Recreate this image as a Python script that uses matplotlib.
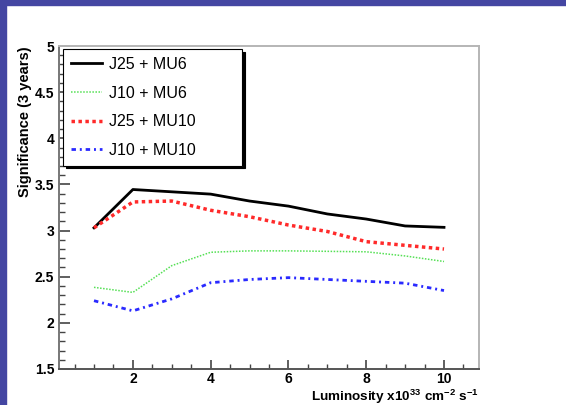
import numpy as np
import matplotlib
matplotlib.use('Agg')
import matplotlib.pyplot as plt
from matplotlib.patches import Rectangle
from matplotlib.ticker import MultipleLocator, StrMethodFormatter

# luminosity points (x10^33 cm^-2 s^-1)
lumi = [1, 2, 3, 4, 5, 6, 7, 8, 9, 10]

j25_mu6 = [3.03, 3.445, 3.42, 3.395, 3.32, 3.265, 3.18, 3.125, 3.05, 3.035]
j10_mu6 = [2.385, 2.33, 2.62, 2.765, 2.78, 2.78, 2.775, 2.77, 2.725, 2.665]
j25_mu10 = [3.03, 3.31, 3.32, 3.22, 3.15, 3.06, 2.99, 2.88, 2.84, 2.80]
j10_mu10 = [2.24, 2.13, 2.26, 2.435, 2.47, 2.49, 2.47, 2.45, 2.43, 2.35]

labels = ['J25 + MU6', 'J10 + MU6', 'J25 + MU10', 'J10 + MU10']

plt.rcParams['font.family'] = ['Liberation Sans', 'DejaVu Sans']
plt.rcParams['mathtext.fontset'] = 'custom'
plt.rcParams['mathtext.rm'] = 'Liberation Sans:bold'
plt.rcParams['mathtext.bf'] = 'Liberation Sans:bold'
plt.rcParams['mathtext.default'] = 'rm'

fig = plt.figure(figsize=(5.66, 4.05), dpi=100)
W, H = 566, 405
# slide border
fig.patches.append(Rectangle((0, 0), 6 / W, 1, transform=fig.transFigure,
                             color='#4446a2', zorder=0))
fig.patches.append(Rectangle((0, 1 - 5 / H), 1, 5 / H, transform=fig.transFigure,
                             color='#4446a2', zorder=0))

ax = fig.add_axes([59 / W, 1 - 369 / H, 420 / W, 323 / H])

ax.plot(lumi, j25_mu6, color='black', lw=2.0, label=labels[0])
ax.plot(lumi, j10_mu6, color='#55e055', lw=1.1, ls=(0, (1, 1)), label=labels[1])
ax.plot(lumi, j25_mu10, color='#ff2a2a', lw=2.5, ls=(0, (1, 1)), label=labels[2])
ax.plot(lumi, j10_mu10, color='#2a2aff', lw=2.0, ls=(0, (1.6, 1.4, 0.7, 1.4)), label=labels[3])

ax.set_xlim(0.1, 10.9)
ax.set_ylim(1.5, 5)
ax.xaxis.set_major_locator(MultipleLocator(2))
ax.xaxis.set_minor_locator(MultipleLocator(0.5))
ax.yaxis.set_major_locator(MultipleLocator(0.5))
ax.yaxis.set_minor_locator(MultipleLocator(0.1))
ax.xaxis.set_major_formatter(StrMethodFormatter('{x:g}'))
ax.yaxis.set_major_formatter(StrMethodFormatter('{x:g}'))

ax.tick_params(which='both', direction='in', top=False, right=False, color='#444444')
ax.tick_params(axis='x', which='major', length=6.5, width=1.2, pad=2)
ax.tick_params(axis='x', which='minor', length=3.3, width=1.0)
ax.tick_params(axis='y', which='major', length=8, width=1.2, pad=3.5)
ax.tick_params(axis='y', which='minor', length=4.2, width=1.0)
ax.tick_params(which='major', labelsize=10)
for lab in ax.get_xticklabels() + ax.get_yticklabels():
    lab.set_fontweight('bold')

ax.spines['left'].set_color('#777777')
ax.spines['bottom'].set_color('#555555')
ax.spines['top'].set_color('#b5b5b5')
ax.spines['right'].set_color('#b5b5b5')
for s in ax.spines.values():
    s.set_linewidth(1.4)

ax.set_xlabel(r'Luminosity x10$^{33}$ cm$^{-2}$ s$^{-1}$', fontsize=9.7,
              fontweight='bold', loc='right')
ax.xaxis.set_label_coords(1.0, -0.057)
ax.set_ylabel('Significance (3 years)', fontsize=10.5, fontweight='bold', loc='top')
ax.yaxis.set_label_coords(-0.064, 1.0)

leg = ax.legend(loc='upper left', bbox_to_anchor=(4 / 420, 1 - 3 / 323, 179 / 420, 0.0),
                mode='expand', borderaxespad=0, fontsize=11.5, frameon=True,
                fancybox=False, edgecolor='black', framealpha=1,
                shadow={'color': 'black', 'alpha': 1},
                handlelength=1.95, handletextpad=0.4, labelspacing=0.85,
                borderpad=0.5)
leg.get_frame().set_linewidth(0.8)

fig.savefig('out.png', dpi=100, facecolor='white')
